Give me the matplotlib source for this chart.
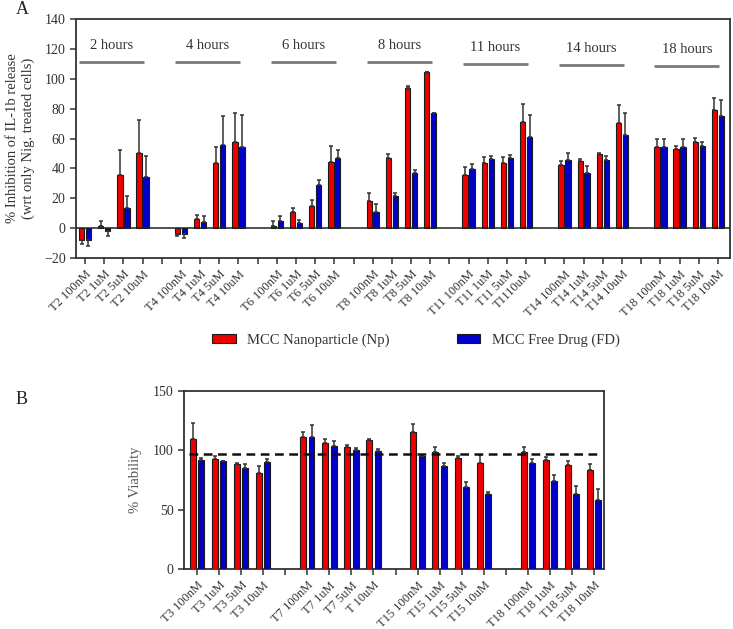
import numpy as np
import matplotlib
matplotlib.use("Agg")
import matplotlib.pyplot as plt
from matplotlib.patches import Patch

plt.rcParams['font.family'] = ['Liberation Serif', 'DejaVu Serif']

# ---------------- Panel A data ----------------
a_groups = ["2 hours", "4 hours", "6 hours", "8 hours", "11 hours", "14 hours", "18 hours"]
a_labels = [
    "T2 100nM", "T2 1uM", "T2 5uM", "T2 10uM",
    "T4 100nM", "T4 1uM", "T4 5uM", "T4 10uM",
    "T6 100nM", "T6 1uM", "T6 5uM", "T6 10uM",
    "T8 100nM", "T8 1uM", "T8 5uM", "T8 10uM",
    "T11 100nM", "T11 1uM", "T11 5uM", "T1110uM",
    "T14 100nM", "T14 1uM", "T14 5uM", "T14 10uM",
    "T18 100nM", "T18 1uM", "T18 5uM", "T18 10uM",
]
a_np = [-7.8, 1.1, 35.7, 50.1,
        -3.8, 6.0, 43.9, 57.5,
        1.6, 10.7, 14.9, 44.6,
        18.3, 47.2, 93.6, 104.3,
        35.4, 43.9, 43.9, 70.9,
        42.3, 45.0, 49.5, 70.2,
        54.6, 52.8, 57.5, 79.1]
a_np_err = [2.9, 3.4, 16.7, 22.3,
            1.8, 2.5, 10.5, 19.8,
            3.3, 2.9, 3.6, 10.7,
            5.5, 2.3, 1.6, 0.0,
            5.2, 4.0, 3.6, 12.0,
            2.7, 1.1, 0.9, 12.0,
            5.3, 2.2, 2.9, 8.3]
a_fd = [-7.8, -1.8, 13.8, 33.9,
        -3.8, 4.2, 55.5, 54.6,
        5.1, 3.3, 29.0, 46.8,
        10.5, 21.8, 36.8, 77.3,
        39.7, 46.4, 47.0, 60.8,
        45.5, 37.0, 45.5, 62.4,
        54.6, 54.6, 54.8, 75.3]
a_fd_err = [4.5, 3.2, 7.4, 14.5,
            2.9, 3.6, 19.6, 21.2,
            3.1, 2.3, 2.9, 5.3,
            5.5, 1.8, 2.2, 0.0,
            3.3, 2.0, 1.8, 15.2,
            5.1, 4.4, 2.6, 14.5,
            5.3, 5.1, 2.7, 10.5]
a_yticks = [-20, 0, 20, 40, 60, 80, 100, 120, 140]

# ---------------- Panel B data ----------------
b_labels = [
    "T3 100nM", "T3 1uM", "T3 5uM", "T3 10uM",
    "T7 100nM", "T7 1uM", "T7 5uM", "T 10uM",
    "T15 100nM", "T15 1uM", "T15 5uM", "T15 10uM",
    "T18 100nM", "T18 1uM", "T18 5uM", "T18 10uM",
]
b_np = [109.3, 92.5, 88.9, 81.3,
        111.3, 106.5, 102.6, 108.5,
        115.8, 98.7, 93.4, 89.4,
        98.7, 92.0, 87.5, 83.3]
b_np_err = [13.8, 2.5, 0.5, 5.6,
            4.2, 3.4, 1.7, 0.8,
            6.7, 4.5, 2.2, 7.0,
            4.5, 2.5, 3.9, 5.6]
b_fd = [92.0, 91.1, 85.5, 90.3,
        111.3, 103.4, 100.4, 99.5,
        95.0, 86.9, 69.2, 63.6,
        89.7, 74.3, 63.6, 58.3]
b_fd_err = [1.9, 0.3, 3.4, 2.5,
            10.1, 4.8, 1.6, 2.0,
            0.3, 2.5, 3.7, 1.2,
            2.8, 5.0, 6.2, 8.7]
b_yticks = [0, 50, 100, 150]
b_threshold = 97

legend_names = ["MCC Nanoparticle (Np)", "MCC Free Drug (FD)"]

RED = '#ee0000'
BLUE = '#0000cc'
EDGE = '#1a1a1a'
TXT = '#333333'


def slot_positions(n_items, per_group=4):
    idx = np.arange(n_items)
    return idx + idx // per_group


def asym_err(vals, errs):
    vals = np.asarray(vals); errs = np.asarray(errs)
    lower = np.where(vals < 0, errs, 0)
    upper = np.where(vals >= 0, errs, 0)
    return np.vstack([lower, upper])


def draw_bars(ax, pos, v1, e1, v2, e2, off, width):
    ekw = dict(ecolor='#333333', elinewidth=1.1, capsize=1.5, capthick=1.1)
    ax.bar(pos - off, v1, width, color=RED, edgecolor=EDGE, linewidth=0.8,
           yerr=asym_err(v1, e1), error_kw=ekw, zorder=3)
    ax.bar(pos + off, v2, width, color=BLUE, edgecolor=EDGE, linewidth=0.8,
           yerr=asym_err(v2, e2), error_kw=ekw, zorder=3)


def style_axes(ax, n_slots, labels, pos, fs):
    for s in ax.spines.values():
        s.set_color('#333333')
        s.set_linewidth(1.3)
    all_ticks = np.arange(n_slots)
    ax.set_xticks(all_ticks)
    lab = [''] * n_slots
    for p, l in zip(pos, labels):
        lab[p] = l
    ax.set_xticklabels(lab, rotation=45, ha='right', rotation_mode='anchor',
                       fontsize=fs, color=TXT)
    ax.tick_params(axis='both', direction='out', length=4, width=1.1, color='#333333')
    ax.tick_params(axis='y', labelsize=10, labelcolor=TXT)


fig = plt.figure(figsize=(7.33, 6.29), dpi=100)

# ---------------- Panel A ----------------
axA = fig.add_axes([76/733, 1-258/629, 654/733, 239/629])
posA = slot_positions(len(a_labels))
nA = posA[-1] + 1
draw_bars(axA, posA, a_np, a_np_err, a_fd, a_fd_err, off=0.18, width=0.28)
axA.axhline(0, color='#222222', lw=1.1, zorder=4)
axA.set_xlim(-0.47, nA - 1 + 0.63)
axA.set_ylim(-20, 140)
axA.set_yticks(a_yticks)
style_axes(axA, nA, a_labels, posA, 9)
axA.set_ylabel("% Inhibition of IL-1b release\n(wrt only Nig. treated cells)",
               fontsize=10.5, color=TXT, linespacing=1.25)
axA.yaxis.set_label_coords(-0.062, 0.5)

line_y = [111.2, 111.2, 111.2, 111.2, 109.8, 109.2, 108.5]
for g, name in enumerate(a_groups):
    start = g * 5
    axA.plot([start - 0.31, start + 3.08], [line_y[g], line_y[g]], color='#7a7a7a', lw=2,
             solid_capstyle='butt', zorder=2)
    axA.text(start + 1.4, line_y[g] + 11.0, name, ha='center', va='center',
             fontsize=10.5, color=TXT)

fig.text(22/733, 1-9/629, "A", fontsize=13, ha='center', va='center', color='#222222')

# ---------------- Legend ----------------
handles = [Patch(facecolor=RED, edgecolor=EDGE, linewidth=0.8),
           Patch(facecolor=BLUE, edgecolor=EDGE, linewidth=0.8)]
fig.legend(handles, legend_names, loc='center', bbox_to_anchor=(416/733, 1-340/629),
           ncol=2, frameon=False, fontsize=10.5, handlelength=1.6, handleheight=0.6,
           columnspacing=4.6, handletextpad=0.8, labelcolor=TXT)

# ---------------- Panel B ----------------
axB = fig.add_axes([184/733, 1-569/629, 420/733, 178/629])
posB = slot_positions(len(b_labels))
nB = posB[-1] + 1
draw_bars(axB, posB, b_np, b_np_err, b_fd, b_fd_err, off=0.19, width=0.27)
axB.axhline(b_threshold, xmin=0.012, xmax=0.99, color='#111111', lw=1.8,
            ls=(0, (3.5, 2.2)), zorder=4)
axB.set_xlim(-0.59, nB - 1 + 0.45)
axB.set_ylim(0, 150)
axB.set_yticks(b_yticks)
style_axes(axB, nB, b_labels, posB, 9)
axB.set_ylabel("% Viability", fontsize=10.5, color='#555555')
axB.yaxis.set_label_coords(-0.1, 0.5)

fig.text(22/733, 1-400/629, "B", fontsize=13, ha='center', va='center', color='#222222')

fig.savefig("out.png", dpi=100)
